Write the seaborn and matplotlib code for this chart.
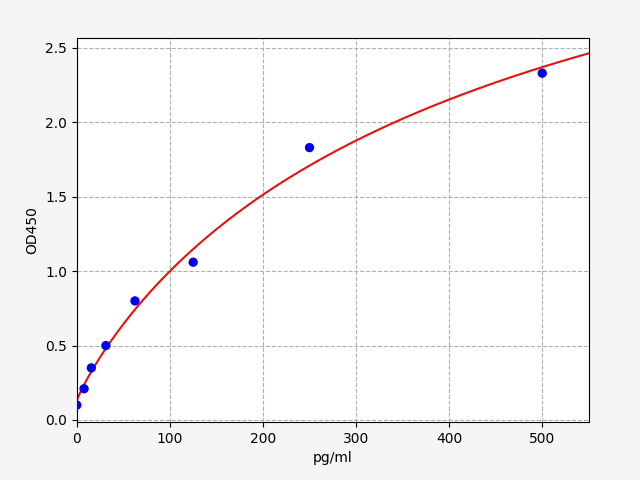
import numpy as np
import pandas as pd
import matplotlib
matplotlib.use("Agg")
import matplotlib.pyplot as plt
import seaborn as sns

# standard concentrations (pg/ml) and measured OD450
conc = [0, 7.8, 15.6, 31.25, 62.5, 125, 250, 500]
od450 = [0.10, 0.21, 0.35, 0.50, 0.80, 1.06, 1.83, 2.33]

# 4PL fit parameters
fit_bottom = 0.13
fit_top = 4.47
fit_ec50 = 465
fit_slope = 0.9

df = pd.DataFrame({'pg/ml': conc, 'OD450': od450})

xs = np.linspace(0, 550, 300)
curve = pd.DataFrame({'pg/ml': xs,
                      'OD450': fit_top + (fit_bottom - fit_top) / (1 + (xs / fit_ec50) ** fit_slope)})

fig, ax = plt.subplots(figsize=(6.4, 4.8), dpi=100)
fig.patch.set_facecolor('#f5f5f5')
fig.subplots_adjust(left=0.12, right=0.92, top=0.921, bottom=0.121)

sns.lineplot(data=curve, x='pg/ml', y='OD450', color='#e8110f', linewidth=1.5, ax=ax, zorder=2)
sns.scatterplot(data=df, x='pg/ml', y='OD450', color='#0000ee', s=45, edgecolor='none', ax=ax, zorder=3)

ax.set_xlim(0, 550)
ax.set_ylim(-0.013, 2.567)
ax.grid(True, linestyle='--', color='#b0b0b0', linewidth=0.8)
ax.set_axisbelow(True)
ax.set_xlabel('pg/ml')
ax.set_ylabel('OD450')

fig.savefig('out.png', dpi=100, facecolor=fig.get_facecolor())
